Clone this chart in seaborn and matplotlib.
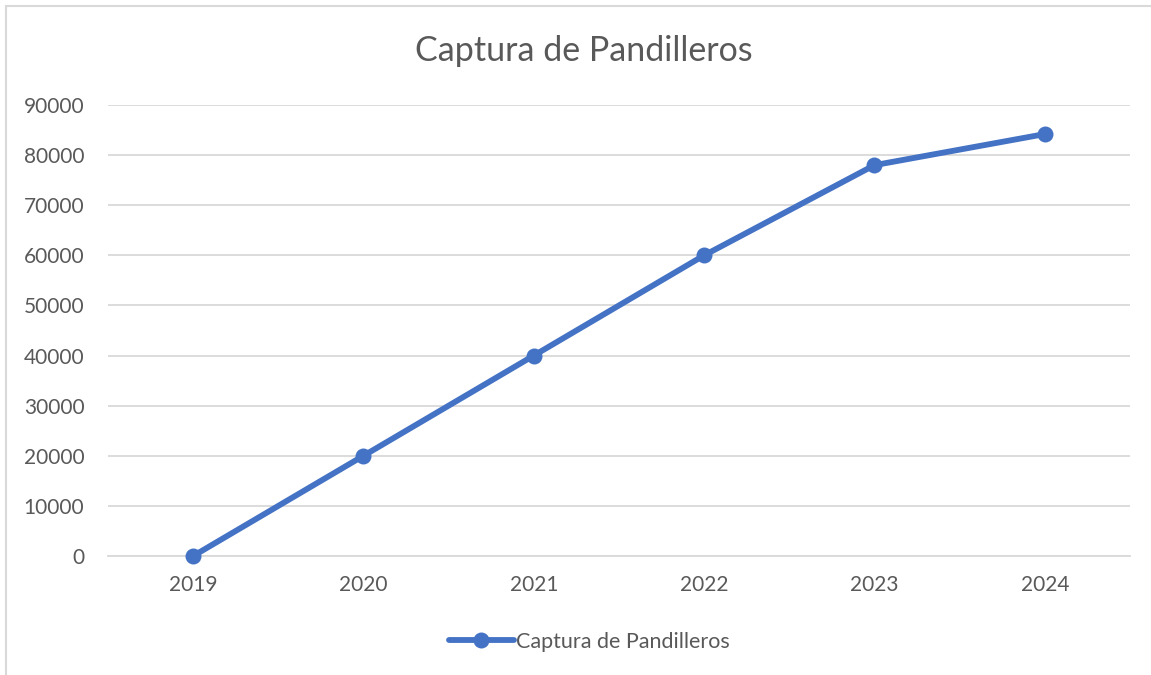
import matplotlib
matplotlib.use("Agg")
import matplotlib.pyplot as plt
import seaborn as sns
import pandas as pd
from matplotlib.lines import Line2D

years = ["2019", "2020", "2021", "2022", "2023", "2024"]
capturas = [0, 20000, 40000, 60000, 78000, 84200]
serie = "Captura de Pandilleros"

BLUE = "#4472C4"
TEXT = "#595959"
GRID = "#D9D9D9"

sns.set_style("white")
plt.rcParams["font.family"] = ["Lato", "DejaVu Sans"]

df = pd.DataFrame({"year": years, "value": capturas})

fig = plt.figure(figsize=(11.51, 6.75), dpi=100)
ax = fig.add_axes([0.0938, 0.1763, 0.8879, 0.6681])

sns.lineplot(data=df, x="year", y="value", ax=ax, color=BLUE, linewidth=4.2,
             marker="o", markersize=11.5, markeredgewidth=0, label=serie,
             solid_capstyle="round", clip_on=False, zorder=3)

ax.set_xlim(-0.5, len(years) - 0.5)
ax.set_ylim(0, 90000)
ax.set_yticks(range(0, 90001, 10000))
ax.yaxis.grid(True, color=GRID, linewidth=1.3)
ax.set_axisbelow(True)
for s in ["top", "right", "left"]:
    ax.spines[s].set_visible(False)
ax.spines["bottom"].set_color(GRID)
ax.spines["bottom"].set_linewidth(1.3)
ax.tick_params(axis="both", length=0, labelsize=15, labelcolor=TEXT)
ax.tick_params(axis="x", pad=14)
ax.tick_params(axis="y", pad=17)
ax.set_xlabel("")
ax.set_ylabel("")

fig.text(0.507, 0.924, serie, ha="center", va="center", fontsize=24.5, color=TEXT)

leg = ax.legend(loc="center", bbox_to_anchor=(0.471, -0.19), frameon=False,
                fontsize=15.5, handlelength=3.0, handletextpad=0.1)
for t in leg.get_texts():
    t.set_color(TEXT)

# chart area border (top and left visible)
fig.add_artist(Line2D([0.0055, 1.0], [0.991, 0.991], color=GRID, linewidth=1.5,
                      transform=fig.transFigure))
fig.add_artist(Line2D([0.0055, 0.0055], [0.0, 0.991], color=GRID, linewidth=1.5,
                      transform=fig.transFigure))

fig.savefig("out.png", dpi=100)
